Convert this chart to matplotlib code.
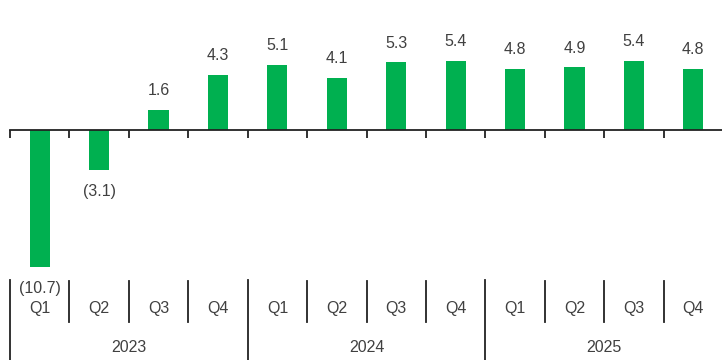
import matplotlib
matplotlib.use("Agg")
import matplotlib.pyplot as plt
import numpy as np

quarters = ["Q1", "Q2", "Q3", "Q4"] * 3
years = ["2023", "2024", "2025"]
values = [-10.7, -3.1, 1.6, 4.3, 5.1, 4.1, 5.3, 5.4, 4.8, 4.9, 5.4, 4.8]

W, H = 722, 360
fig = plt.figure(figsize=(W / 100, H / 100), dpi=100)
plt.rcParams['font.family'] = ['Liberation Sans', 'DejaVu Sans']

# axes region in pixels: x 10..723, y 20..270 (top-down)
left_px, right_px, top_px, bot_px = 10, 723, 20, 270
ax = fig.add_axes([left_px / W, 1 - bot_px / H, (right_px - left_px) / W, (bot_px - top_px) / H])
scale = 12.8
zero_px = 130
ax.set_ylim(-(bot_px - zero_px) / scale, (zero_px - top_px) / scale)
n = len(values)
ax.set_xlim(-0.5, n - 0.5)
x = np.arange(n)
ax.bar(x, values, width=0.34, color="#00B050")

for s in ["top", "right", "left"]:
    ax.spines[s].set_visible(False)
ax.spines["bottom"].set_position(("data", 0))
ax.spines["bottom"].set_color("#222222")
ax.spines["bottom"].set_linewidth(1.3)
ax.set_yticks([])
ax.set_xticks(np.arange(n + 1) - 0.5)
ax.set_xticklabels([])
ax.tick_params(axis="x", direction="out", length=6, width=1.3, color="#222222")

txt = "#404040"
fs = 11.5
for xi, v in zip(x, values):
    if v >= 0:
        lab = f"{v:.1f}"
        ax.annotate(lab, (xi, v), xytext=(0, 19), textcoords="offset pixels",
                    ha="center", va="center", fontsize=fs, color=txt)
    else:
        lab = f"({abs(v):.1f})"
        ax.annotate(lab, (xi, v), xytext=(0, -22), textcoords="offset pixels",
                    ha="center", va="center", fontsize=fs, color=txt)

# category label area (figure pixel coordinates)
def fx(px):
    return px / W

def fy(py):
    return 1 - py / H

step = (right_px - left_px) / n
for i, q in enumerate(quarters):
    cx = left_px + step * (i + 0.5)
    fig.text(fx(cx), fy(308), q, ha="center", va="center", fontsize=fs, color=txt)
for i in range(n + 1):
    bx = left_px + step * i
    if i % 4 == 0:
        fig.add_artist(plt.Line2D([fx(bx), fx(bx)], [fy(280), fy(360)], color="#222222", lw=1.3))
    else:
        fig.add_artist(plt.Line2D([fx(bx), fx(bx)], [fy(281), fy(322)], color="#222222", lw=1.3))
for j, yr in enumerate(years):
    cx = left_px + step * (4 * j + 2)
    fig.text(fx(cx), fy(347), yr, ha="center", va="center", fontsize=fs, color=txt)

fig.savefig("out.png", dpi=100)
